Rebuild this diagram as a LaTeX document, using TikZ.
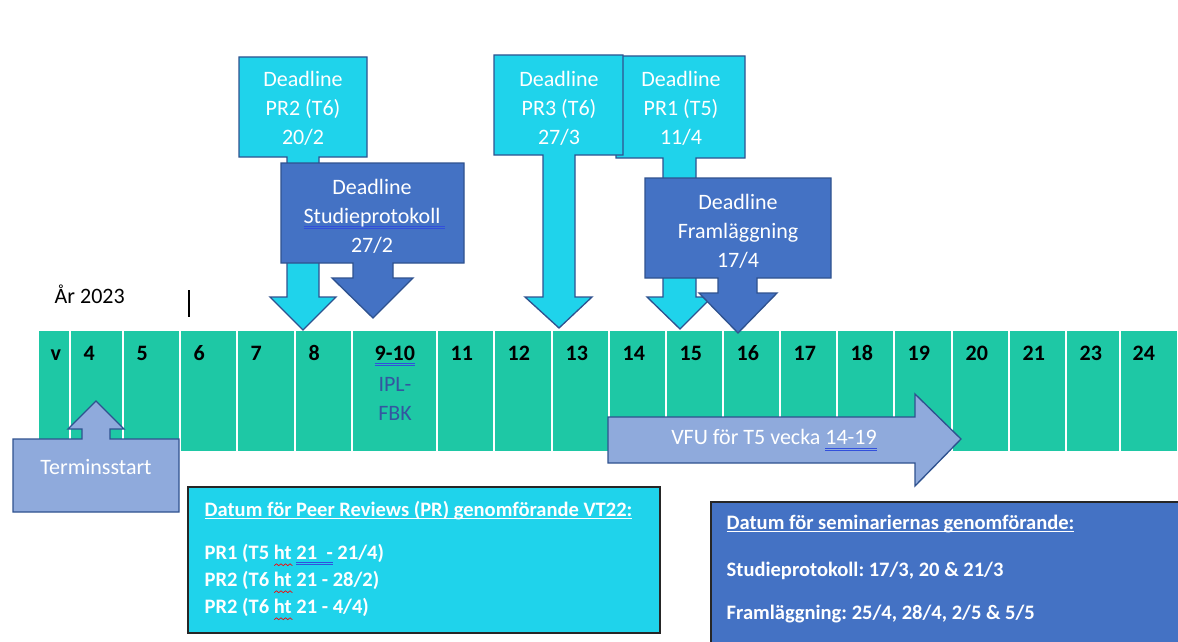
\documentclass[tikz,border=0pt]{standalone}
\usepackage{fontspec}
\setmainfont{Carlito}
\usepackage{tikz}
\frenchspacing

\definecolor{cellfill}{RGB}{30,200,165}
\definecolor{cyanfill}{RGB}{31,211,235}
\definecolor{bluefill}{RGB}{68,114,196}
\definecolor{lightfill}{RGB}{143,170,220}
\definecolor{edgeblue}{RGB}{47,82,143}
\definecolor{iplblue}{RGB}{52,86,160}
\definecolor{wordblue}{RGB}{50,80,220}

\newcommand\calloutfont{\fontsize{16.5}{21.75}\selectfont}
\newcommand\notefont{\fontsize{15.4}{20.25}\selectfont}
% underlines as Word prints them
\newlength\ulw
\newcommand\dbline[1]{\settowidth\ulw{#1}%
  \rlap{\textcolor{wordblue}{\rule[-2.6pt]{\ulw}{0.5pt}}}\rlap{\textcolor{wordblue}{\rule[-4pt]{\ulw}{0.5pt}}}#1}
\newcommand\wline[1]{\settowidth\ulw{#1}\rlap{\rule[-2.6pt]{\ulw}{0.9pt}}#1}
\newcommand\redwave[1]{\rlap{\tikz[baseline=5pt,x=1pt,y=1pt]\draw[red,line width=0.5pt]
  (0,0) -- (1.7,1.4) -- (3.4,0) -- (5.1,1.4) -- (6.8,0) -- (8.5,1.4) -- (10.2,0) -- (11.9,1.4) -- (13.6,0);}#1}

\tikzset{
  callout/.style={draw=edgeblue, line width=1pt, line join=miter},
  calltext/.style={text=white, align=center, font=\calloutfont},
  wknum/.style={anchor=base west, font=\bfseries\calloutfont},
  note/.style={text=white, align=left, anchor=base west, font=\bfseries\notefont},
}

\begin{document}
\begin{tikzpicture}[x=0.75pt,y=-0.75pt]
  \clip (0,0) rectangle (1178,642);

  % week row
  \foreach \l/\r/\t/\dx [count=\i] in {38/70/v/8,70/123/4/9,123/180/5/9,180/237/6/9,237/295/7/9,
      295/352/8/9,352/437/{\dbline{9-10}}/18,437/494/11/9,494/552/12/9,552/609/13/9,609/666/14/9,
      666/723/15/9,723/780/16/9,780/837/17/9,837/894/18/9,894/952/19/9,952/1009/20/9,
      1009/1066/21/9,1066/1120/23/9,1120/1178/24/8}{
    \fill[cellfill] (\l+1,331) rectangle (\r-1,451);
    \node[wknum] (wk\i) at (\l+\dx,360) {\t};
  }
  \node[font=\calloutfont, text=iplblue, align=center] (ipl) at (395,399) {IPL-\\FBK};

  \node[anchor=base west, font=\calloutfont] (year) at (50,303) {År 2023};
  \draw[line width=0.9pt] (189,290) -- (189,317);

  % deadlines
  \draw[callout, fill=cyanfill] (239,57) -- (367,57) -- (367,157) -- (319,157) -- (319,297) -- (336,297) -- (303,330)
      -- (270,297) -- (287,297) -- (287,157) -- (239,157) -- cycle;
  \node[calltext] (pr2) at (303,108) {Deadline\\PR2 (T6)\\20/2};
  \draw[callout, fill=bluefill] (281,163) -- (464,163) -- (464,263) -- (393,263) -- (393,278) -- (413,278) -- (373,318)
      -- (332,278) -- (353,278) -- (353,263) -- (281,263) -- cycle;
  \node[calltext] (stud) at (372,216) {Deadline\\\dbline{Studieprotokoll\ }\\27/2};

  \draw[callout, fill=cyanfill] (616,56) -- (745,56) -- (745,158) -- (696,158) -- (696,297) -- (712,297) -- (680,329)
      -- (647,297) -- (663,297) -- (663,158) -- (616,158) -- cycle;
  \node[calltext] (pr1) at (681,108) {Deadline\\PR1 (T5)\\11/4};
  \draw[callout, fill=cyanfill] (494,55) -- (623,55) -- (623,155) -- (575,155) -- (575,297) -- (592,297) -- (559,328)
      -- (525,297) -- (543,297) -- (543,155) -- (494,155) -- cycle;
  \node[calltext] (pr3) at (559,108) {Deadline\\PR3 (T6)\\27/3};
  \draw[callout, fill=bluefill] (645,178) -- (831,178) -- (831,278) -- (757,278) -- (757,293) -- (777,293) -- (738,333)
      -- (699,293) -- (718,293) -- (718,278) -- (645,278) -- cycle;
  \node[calltext] (fram) at (738,231) {Deadline\\Framläggning\\17/4};

  % term start and VFU
  \draw[callout, fill=lightfill] (13,439) -- (82,439) -- (82,429) -- (68,429) -- (96,401) -- (124,429) -- (110,429)
      -- (110,439) -- (179,439) -- (179,512) -- (13,512) -- cycle;
  \node[calltext] (start) at (96,467) {Terminsstart};
  \draw[callout, fill=lightfill] (608,417) -- (915,417) -- (915,394) -- (961,439) -- (915,486) -- (915,463)
      -- (608,463) -- cycle;
  \node[calltext] (vfu) at (774,440) {VFU för T5 vecka \dbline{14-19}};

  % dates
  \draw[fill=cyanfill, draw=black!85, line width=1.5pt] (188,487) rectangle (660,633);
  \node[note] (prhead) at (200,516) {\wline{Datum för Peer Reviews (PR) genomförande VT22:}};
  \node[note] (prl1) at (200,559) {PR1 (T5 \redwave{ht} \dbline{21\ \ -} 21/4)};
  \node[note] (prl2) at (200,586) {PR2 (T6 \redwave{ht} 21 - 28/2)};
  \node[note] (prl3) at (200,613) {PR2 (T6 \redwave{ht} 21 - 4/4)};

  \draw[fill=bluefill, draw=black!85, line width=1.5pt] (711,502) rectangle (1190,660);
  \node[note] (semhead) at (722,529) {\wline{Datum för seminariernas genomförande:}};
  \node[note] (seml1) at (722,576) {Studieprotokoll: 17/3, 20 \& 21/3};
  \node[note] (seml2) at (722,619) {Framläggning: 25/4, 28/4, 2/5 \& 5/5};
\end{tikzpicture}
\end{document}
